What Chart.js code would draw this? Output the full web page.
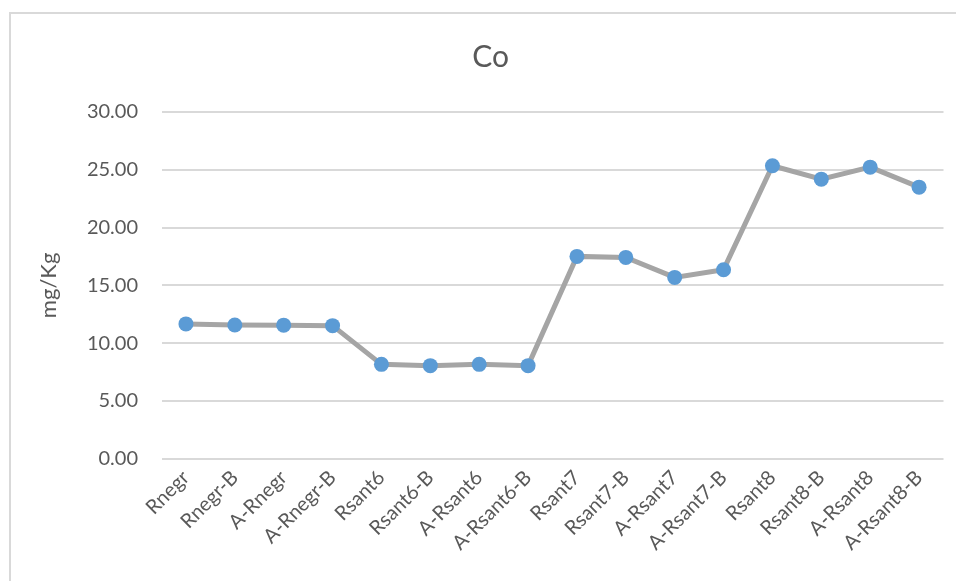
<!DOCTYPE html>
<html>
<head>
<meta charset="utf-8">
<script src="https://cdn.jsdelivr.net/npm/chart.js@4"></script>
<style>
  html, body { margin: 0; padding: 0; background: #fff; overflow: hidden; width: 956px; height: 581px; }
  #frame {
    position: absolute; left: 9px; top: 12px;
    width: 962px; height: 600px;
    border: 2px solid #d9d9d9;
    background: #fff;
  }
  #chart { position: absolute; left: 0; top: 0; }
</style>
</head>
<body>
<div id="frame"><canvas id="chart" width="960" height="580"></canvas></div>
<script>
// Sample names along the x axis
const categories = [
  'Rnegr', 'Rnegr-B', 'A-Rnegr', 'A-Rnegr-B',
  'Rsant6', 'Rsant6-B', 'A-Rsant6', 'A-Rsant6-B',
  'Rsant7', 'Rsant7-B', 'A-Rsant7', 'A-Rsant7-B',
  'Rsant8', 'Rsant8-B', 'A-Rsant8', 'A-Rsant8-B'
];

// Cobalt content, mg/Kg
const coValues = [
  11.67, 11.58, 11.56, 11.52,
  8.17, 8.06, 8.17, 8.06,
  17.51, 17.42, 15.69, 16.36,
  25.35, 24.19, 25.23, 23.50
];

// Value axis ticks
const yTicks = [0, 5, 10, 15, 20, 25, 30];

const textColor = '#595959';
const gridColor = '#d9d9d9';
const fontFamily = 'Lato, "Open Sans", sans-serif';

new Chart(document.getElementById('chart'), {
  type: 'line',
  data: {
    labels: categories,
    datasets: [{
      label: 'Co',
      data: coValues,
      borderColor: '#a5a5a5',
      borderWidth: 5,
      backgroundColor: '#5b9bd5',
      pointBackgroundColor: '#5b9bd5',
      pointBorderColor: '#5b9bd5',
      pointBorderWidth: 0,
      pointRadius: 7.5,
      tension: 0,
      fill: false
    }]
  },
  options: {
    responsive: false,
    animation: false,
    devicePixelRatio: 1,
    layout: { padding: { left: 27, right: 27.5, top: 0, bottom: 0 } },
    plugins: {
      legend: { display: false },
      tooltip: { enabled: false },
      title: {
        display: true,
        text: 'Co',
        color: textColor,
        font: { family: fontFamily, size: 30, weight: 'normal' },
        padding: { top: 25, bottom: 37 }
      }
    },
    scales: {
      x: {
        offset: true,
        grid: { display: false, drawTicks: false },
        border: { display: false },
        ticks: {
          color: textColor,
          font: { family: fontFamily, size: 20 },
          maxRotation: 45,
          minRotation: 45,
          autoSkip: false,
          padding: 7
        },
        afterFit(scale) { scale.height = 135.2; }
      },
      y: {
        min: 0,
        max: 30,
        afterBuildTicks(scale) { scale.ticks = yTicks.map(v => ({ value: v })); },
        grid: { color: gridColor, lineWidth: 2, drawTicks: false },
        border: { display: false },
        ticks: {
          color: textColor,
          font: { family: fontFamily, size: 20 },
          padding: 23.5,
          callback: v => Number(v).toFixed(2)
        },
        title: {
          display: true,
          text: 'mg/Kg',
          color: textColor,
          font: { family: fontFamily, size: 22, weight: 'normal' },
          padding: { top: -2.7, bottom: 0 }
        },
        afterFit(scale) { scale.width = 123.5; }
      }
    }
  }
});
</script>
</body>
</html>
